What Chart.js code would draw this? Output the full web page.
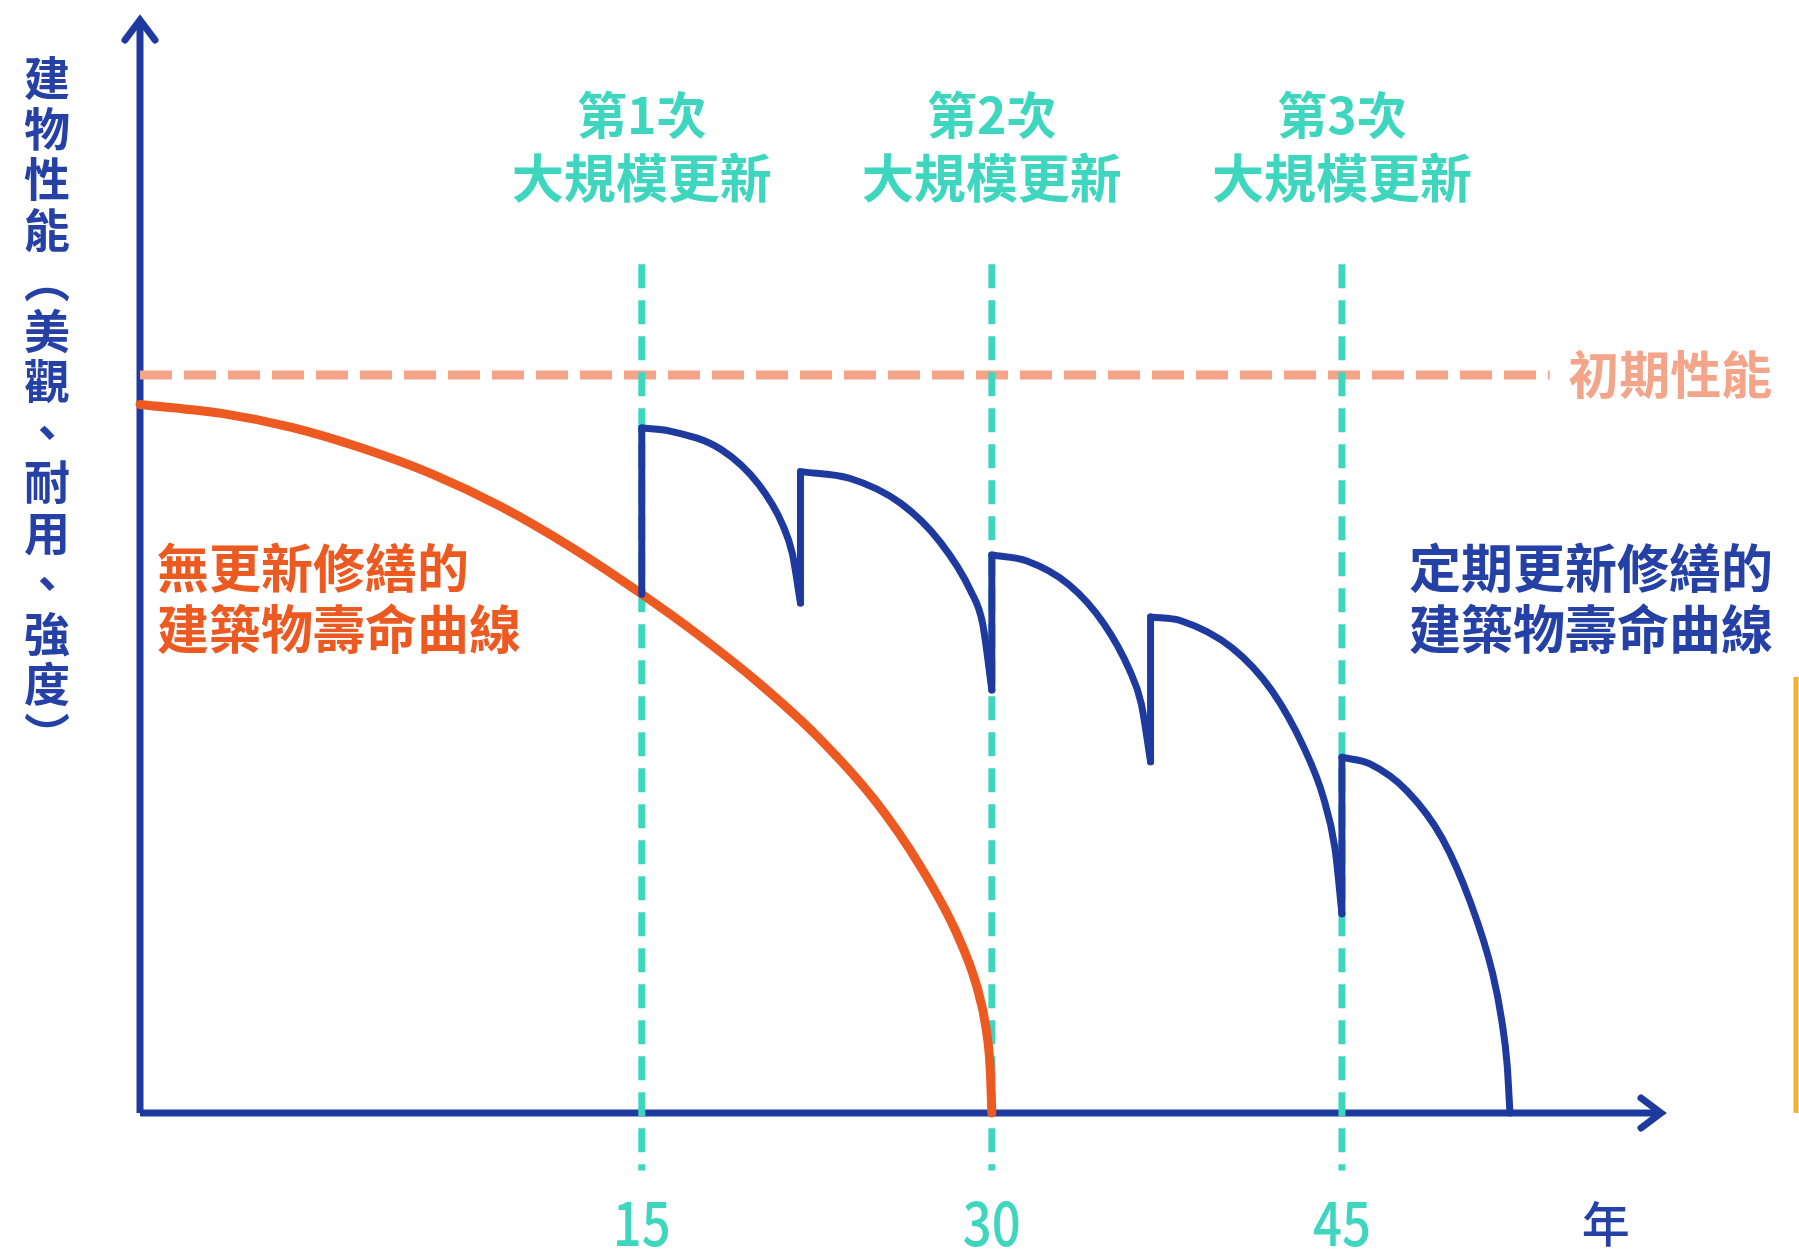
<!DOCTYPE html>
<html>
<head>
<meta charset="utf-8">
<script src="https://cdn.jsdelivr.net/npm/chart.js@4"></script>
<style>
  html, body { margin: 0; padding: 0; background: #fff; }
  #wrap { width: 1799px; height: 1260px; }
</style>
</head>
<body>
<div id="wrap"><canvas id="myChart" width="1799" height="1260"></canvas></div>
<script>
// values (x = years, y = performance, 100 = initial)
var renewalYears = [15, 30, 45];
var renewalNames = ['第1次', '第2次', '第3次'];
var tickLabels = ['15', '30', '45'];
var initialPerformance = 100;

var noRenewYears = [-6.5, -3, 0, 3, 6, 9, 12, 15, 17.5, 20, 22.5, 25, 27, 28.5, 29.36, 29.75, 29.93, 30];
var noRenewValues = [96, 94.8, 92.9, 90.1, 86.6, 82.1, 76.6, 70.3, 64.6, 58.3, 51.1, 42.3, 33.1, 24.3, 17.1, 11.5, 6, 0];

var arc1Years = [15, 16.2, 18.4, 20, 21.05, 21.45, 21.8];
var arc1Values = [92.8, 92.4, 89.9, 85.2, 79.6, 75.8, 69.1];
var arc2Years = [21.8, 23.9, 26.1, 27.8, 29.1, 29.6, 30];
var arc2Values = [86.9, 86, 82.6, 77.3, 70.7, 66.4, 57.3];
var arc3Years = [30, 31.5, 33.3, 34.8, 35.9, 36.4, 36.8];
var arc3Values = [75.6, 74.8, 71.6, 66.3, 60, 55.5, 47.6];
var arc4Years = [36.8, 38.1, 40.3, 42, 43.4, 44.2, 44.7, 45];
var arc4Values = [67.2, 66.7, 63, 57.2, 49.3, 42.8, 35.9, 27];
var arc5Years = [45, 46.2, 47.8, 49.3, 50.5, 51.45, 51.85, 52.08, 52.2];
var arc5Values = [48.2, 47.3, 43.6, 37.2, 28.6, 19, 12.5, 6.5, 0];

var xMin = -6.5, xMax = 58.8, yMax = 148.5;

var BLUE = '#1f3a9e';
var ORANGE = '#ec5a22';
var SALMON = '#f4a488';
var TEAL = '#3fd6bf';
var TEXTBLUE = '#2541a6';
var FONT = '"Noto Sans CJK TC", "Noto Sans CJK SC", sans-serif';

function pts(xs, ys) {
    return xs.map(function (x, i) { return { x: x, y: ys[i] }; });
}

function line(data, color, width, extra) {
    var ds = {
        data: data, showLine: true, borderColor: color, borderWidth: width,
        pointRadius: 0, tension: 0, clip: false, fill: false,
        borderCapStyle: 'butt', borderJoinStyle: 'round'
    };
    for (var k in extra) ds[k] = extra[k];
    return ds;
}

var smooth = { tension: 0.4, cubicInterpolationMode: 'monotone', borderCapStyle: 'round' };

// first dataset ends up on top
var datasets = [];

// curve with renewal: vertical jumps plus arcs
var arcs = [[arc1Years, arc1Values], [arc2Years, arc2Values], [arc3Years, arc3Values], [arc4Years, arc4Values], [arc5Years, arc5Values]];
var prevLow = noRenewValues[noRenewYears.indexOf(15)];
arcs.forEach(function (a) {
    datasets.push(line([{ x: a[0][0], y: prevLow }, { x: a[0][0], y: a[1][0] }], BLUE, 7, { borderCapStyle: 'round' }));
    datasets.push(line(pts(a[0], a[1]), BLUE, 7, smooth));
    prevLow = a[1][a[1].length - 1];
});

// curve without renewal
datasets.push(line(pts(noRenewYears, noRenewValues), ORANGE, 9, smooth));

// renewal markers and initial performance line
renewalYears.forEach(function (yr) {
    datasets.push(line([{ x: yr, y: 115 }, { x: yr, y: -7.8 }], TEAL, 7, { borderDash: [24, 12] }));
});
datasets.push(line([{ x: xMin, y: initialPerformance }, { x: 53.9, y: initialPerformance }], SALMON, 9, { borderDash: [32, 12] }));

// axes
datasets.push(line([{ x: xMin, y: 0 }, { x: xMin, y: yMax - 0.4 }], BLUE, 7));
datasets.push(line([{ x: xMin, y: 0 }, { x: xMax - 0.2, y: 0 }], BLUE, 7));

var labelsPlugin = {
    id: 'labels',
    afterDatasetsDraw: function (chart) {
        var c = chart.ctx, xs = chart.scales.x, ys = chart.scales.y;
        c.save();

        // arrow heads
        c.strokeStyle = BLUE; c.lineWidth = 7; c.lineCap = 'round'; c.lineJoin = 'miter';
        var ax = xs.getPixelForValue(xMin), ay = ys.getPixelForValue(yMax);
        c.beginPath(); c.moveTo(ax - 15, ay + 23); c.lineTo(ax, ay + 3); c.lineTo(ax + 15, ay + 23); c.stroke();
        var bx = xs.getPixelForValue(xMax), by = ys.getPixelForValue(0);
        c.beginPath(); c.moveTo(bx - 23, by - 15); c.lineTo(bx - 3, by); c.lineTo(bx - 23, by + 15); c.stroke();

        c.textAlign = 'center'; c.textBaseline = 'middle';

        // renewal titles + year ticks
        renewalYears.forEach(function (yr, i) {
            var px = xs.getPixelForValue(yr);
            c.fillStyle = TEAL;
            c.font = 'bold 50px ' + FONT;
            c.fillText(renewalNames[i], px, ys.getPixelForValue(135.2));
            c.font = 'bold 52px ' + FONT;
            c.fillText('大規模更新', px, ys.getPixelForValue(126.7));
            c.save();
            c.translate(px, 1222);
            c.scale(0.82, 1);
            c.font = '500 62px ' + FONT;
            c.fillText(tickLabels[i], 0, 0);
            c.restore();
        });
        c.fillStyle = TEXTBLUE;
        c.font = '500 48px ' + FONT;
        c.fillText('年', xs.getPixelForValue(56.3), 1224);

        // initial performance label
        c.fillStyle = SALMON;
        c.font = 'bold 51px ' + FONT;
        c.textAlign = 'left';
        c.fillText('初期性能', xs.getPixelForValue(54.7), ys.getPixelForValue(initialPerformance));

        // curve names
        c.fillStyle = ORANGE;
        c.font = 'bold 52px ' + FONT;
        c.fillText('無更新修繕的', 157, 568);
        c.fillText('建築物壽命曲線', 157, 629);
        c.fillStyle = TEXTBLUE;
        c.textAlign = 'right';
        c.fillText('定期更新修繕的', 1773, 568);
        c.fillText('建築物壽命曲線', 1773, 629);

        // vertical y-axis title
        var title = ['建', '物', '性', '能', '︵', '美', '觀', '、', '耐', '用', '、', '強', '度', '︶'];
        c.textAlign = 'center';
        c.fillStyle = TEXTBLUE;
        c.font = 'bold 46px ' + FONT;
        title.forEach(function (ch, i) {
            c.fillText(ch, 47, 78 + i * 50.5);
        });

        // yellow edge bar
        c.strokeStyle = '#f2b42a'; c.lineWidth = 5; c.lineCap = 'butt';
        c.beginPath(); c.moveTo(chart.width - 3, 677); c.lineTo(chart.width - 3, by); c.stroke();

        c.restore();
    }
};

var ctx = document.getElementById('myChart').getContext('2d');
var chart = new Chart(ctx, {
    type: 'scatter',
    data: { datasets: datasets },
    options: {
        responsive: false,
        animation: false,
        layout: { padding: { left: 140, right: 135, top: 17, bottom: 147 } },
        plugins: { legend: { display: false }, tooltip: { enabled: false } },
        scales: {
            x: { type: 'linear', display: false, min: xMin, max: xMax },
            y: { type: 'linear', display: false, min: 0, max: yMax }
        }
    },
    plugins: [labelsPlugin]
});
</script>
</body>
</html>
